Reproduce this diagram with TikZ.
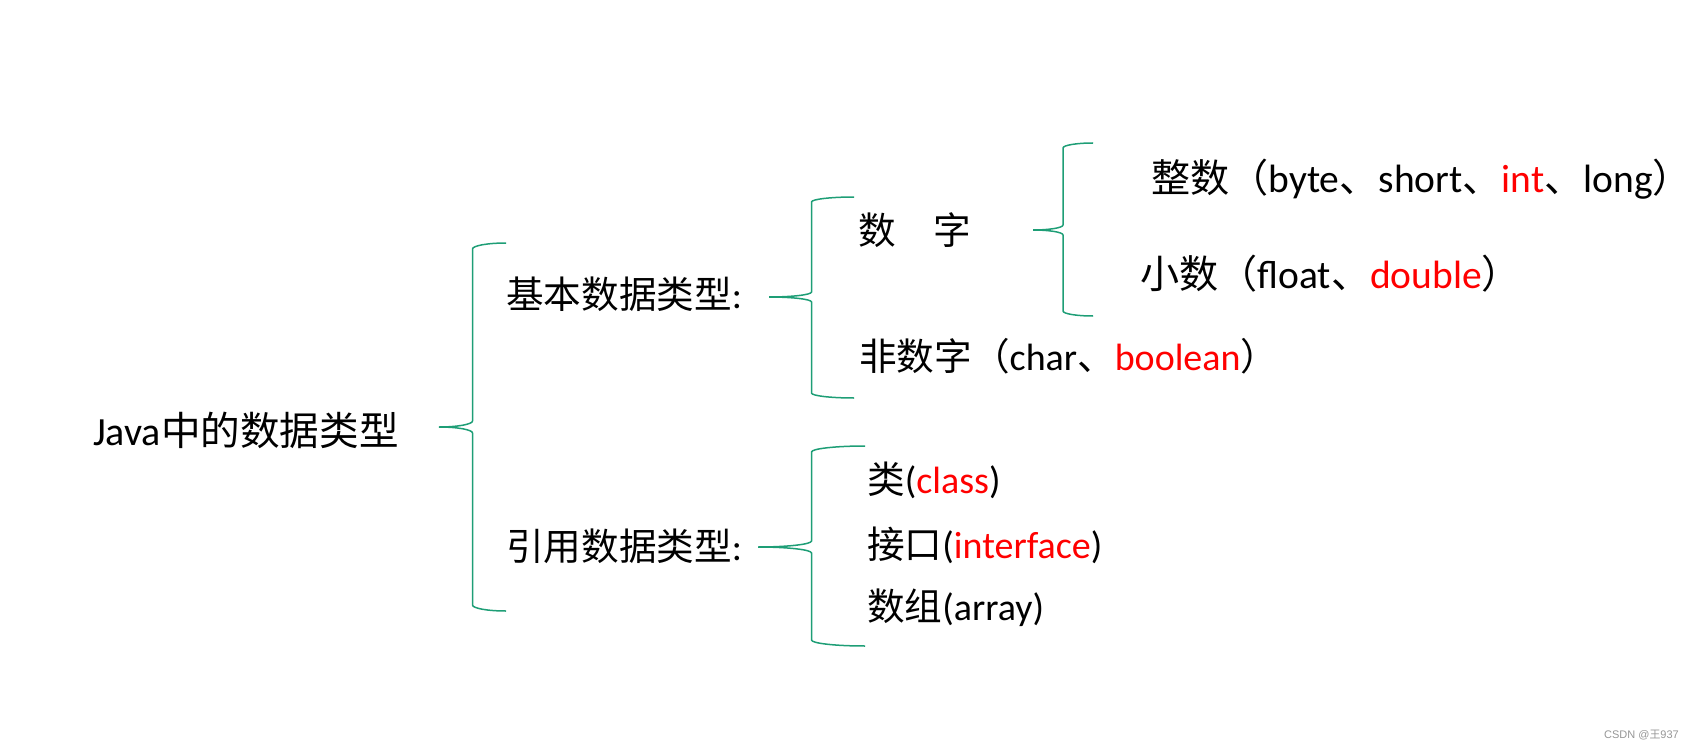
\documentclass[tikz,border=0pt]{standalone}
\usepackage{fontspec}
\setmainfont{Carlito}
\newfontfamily\cjk[Scale=0.99]{Noto Sans CJK SC}
\newfontfamily\markfont{Liberation Sans}
\definecolor{bracegreen}{RGB}{30,158,118}
\definecolor{markgray}{RGB}{150,150,150}

\newcommand{\zh}[1]{{\cjk #1}}
% curly brace: tip x, tip y, top y, bottom y, half width, end radius
\newcommand{\leftbrace}[6]{%
  \draw[brace line] ({#1+2*#5},#3) .. controls ({#1+1.45*#5},#3) and ({#1+#5},{#3+0.45*#6}) .. ({#1+#5},{#3+#6})
    -- ({#1+#5},{#2-#6}) .. controls ({#1+#5},{#2-0.45*#6}) and ({#1+0.55*#5},#2) .. (#1,#2)
    .. controls ({#1+0.55*#5},#2) and ({#1+#5},{#2+0.45*#6}) .. ({#1+#5},{#2+#6})
    -- ({#1+#5},{#4-#6}) .. controls ({#1+#5},{#4-0.45*#6}) and ({#1+1.45*#5},#4) .. ({#1+2*#5},#4);}

\begin{document}
\begin{tikzpicture}[x=1pt, y=-1pt,
  txt/.style={anchor=base west, inner sep=0pt, font=\fontsize{38}{46}\selectfont},
  wide txt/.style={txt, font=\fontsize{39.5}{47}\selectfont},
  brace line/.style={draw=bracegreen, line width=1.5pt}]
  \useasboundingbox (0,0) rectangle (1695,749);
  % root
  \node[txt, font=\fontsize{40}{47}\selectfont] (java) at (93,445) {Java\zh{中的数据类型}};
  \leftbrace{439}{427}{243}{611}{33.5}{6}
  % first level
  \node[txt] (basic) at (506,308) {\zh{基本数据类型}:};
  \node[txt] (ref) at (506,560) {\zh{引用数据类型}:};
  \leftbrace{769}{297}{197}{398}{42.5}{5}
  \leftbrace{758}{547}{446}{646}{53.5}{6}
  % basic types
  \node[txt] (num) at (858,244) {\zh{数　字}};
  \node[txt] (nonnum) at (859,370) {\zh{非数字（}char\zh{、}\textcolor{red}{boolean}\zh{）}};
  \leftbrace{1033}{230}{143}{316}{30}{5}
  \node[wide txt] (int) at (1151,193) {\zh{整数（}byte\zh{、}short\zh{、}\textcolor{red}{int}\zh{、}long\zh{）}\kern-0.4em};
  \node[wide txt] (float) at (1140,288) {\zh{小数（}float\zh{、}\textcolor{red}{double}\zh{）}};
  % reference types
  \node[txt] (class) at (867,493) {\zh{类}(\textcolor{red}{class})};
  \node[txt] (iface) at (867,558) {\zh{接口}(\textcolor{red}{interface})};
  \node[txt] (array) at (867,620) {\zh{数组}(array)};
  % watermark
  \node[anchor=base east, inner sep=0pt, text=markgray, font=\markfont\fontsize{11}{13}\selectfont] (mark) at (1679,738) {CSDN @{\cjk 王}937};
\end{tikzpicture}
\end{document}
